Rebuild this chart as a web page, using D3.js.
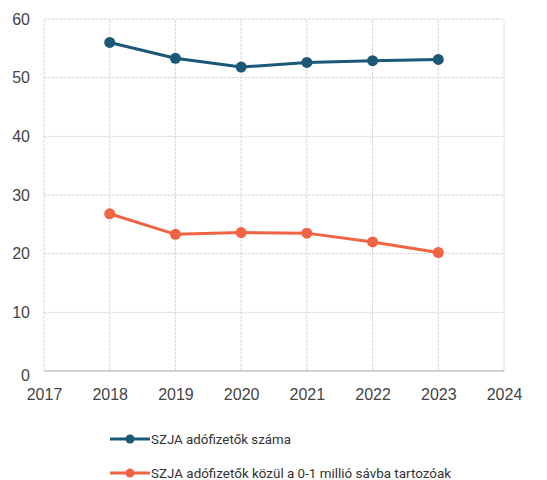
<!DOCTYPE html>
<html>
<head>
<meta charset="utf-8">
<script src="https://cdn.jsdelivr.net/npm/d3@7"></script>
<style>
  body { margin: 0; background: #fff; }
  svg { display: block; font-family: Roboto, "Liberation Sans", sans-serif; }
</style>
</head>
<body>
<div id="chart"></div>
<script>
const years = [2018, 2019, 2020, 2021, 2022, 2023];
const taxpayers = [56.0, 53.3, 51.8, 52.6, 52.9, 53.1];
const lowBand = [26.8, 23.3, 23.6, 23.5, 22.0, 20.2];
const yTicks = [0, 10, 20, 30, 40, 50, 60];
const xTicks = [2017, 2018, 2019, 2020, 2021, 2022, 2023, 2024];
const seriesNames = ['SZJA adófizetők száma', 'SZJA adófizetők közül a 0-1 millió sávba tartozóak'];
const colors = ['#1b5878', '#ef6443'];

const width = 547, height = 480;
const margin = { top: 19, right: 43, bottom: 109, left: 44 };

const svg = d3.select('#chart').append('svg')
    .attr('width', width).attr('height', height);

const x = d3.scaleLinear().domain([2017, 2024]).range([margin.left, width - margin.right]);
const y = d3.scaleLinear().domain([0, 60]).range([height - margin.bottom, margin.top]);

// gridlines
svg.append('g')
    .selectAll('line.h')
    .data(yTicks.filter(d => d > 0))
    .join('line')
    .attr('x1', x(2017)).attr('x2', x(2024))
    .attr('y1', d => y(d)).attr('y2', d => y(d))
    .attr('stroke', '#d8d8dc').attr('stroke-width', 1).attr('stroke-dasharray', '3,1');

svg.append('g')
    .selectAll('line.v')
    .data(xTicks)
    .join('line')
    .attr('x1', d => x(d)).attr('x2', d => x(d))
    .attr('y1', y(0)).attr('y2', y(60))
    .attr('stroke', '#d8d8dc').attr('stroke-width', 1).attr('stroke-dasharray', '3,1');

// baseline
svg.append('line')
    .attr('x1', x(2017)).attr('x2', x(2024))
    .attr('y1', y(0)).attr('y2', y(0))
    .attr('stroke', '#a8a8a8').attr('stroke-width', 1.2);

// axes
const yAxis = svg.append('g')
    .attr('transform', `translate(${margin.left},0)`)
    .call(d3.axisLeft(y).tickValues(yTicks).tickSize(0).tickPadding(14));
yAxis.select('.domain').remove();
yAxis.selectAll('text').attr('font-size', 16).attr('fill', '#444')
    .attr('dy', d => d === 0 ? '0.6em' : '0.32em');

const xAxis = svg.append('g')
    .attr('transform', `translate(0,${y(0)})`)
    .call(d3.axisBottom(x).tickValues(xTicks).tickFormat(d3.format('d')).tickSize(0).tickPadding(18));
xAxis.select('.domain').remove();
xAxis.selectAll('text').attr('font-size', 16).attr('fill', '#444');

// series
const line = d3.line().x(d => x(d[0])).y(d => y(d[1]));
[taxpayers, lowBand].forEach((vals, i) => {
    const pts = years.map((yr, j) => [yr, vals[j]]);
    svg.append('path')
        .datum(pts)
        .attr('d', line)
        .attr('fill', 'none')
        .attr('stroke', colors[i])
        .attr('stroke-width', 3);
    svg.append('g')
        .selectAll('circle')
        .data(pts)
        .join('circle')
        .attr('cx', d => x(d[0]))
        .attr('cy', d => y(d[1]))
        .attr('r', 5.5)
        .attr('fill', colors[i]);
});

// legend
const legend = svg.append('g').attr('transform', 'translate(110,439)');
seriesNames.forEach((name, i) => {
    const g = legend.append('g').attr('transform', `translate(0,${i * 34})`);
    g.append('line').attr('x1', 0).attr('x2', 40).attr('y1', 0).attr('y2', 0)
        .attr('stroke', colors[i]).attr('stroke-width', 3);
    g.append('circle').attr('cx', 20).attr('cy', 0).attr('r', 4.5).attr('fill', colors[i]);
    g.append('text').attr('x', 41).attr('y', 0).attr('dy', '0.36em')
        .attr('font-size', 13.5).attr('fill', '#333')
        .attr('textLength', i === 0 ? 140 : 300)
        .attr('lengthAdjust', 'spacingAndGlyphs')
        .text(name);
});
</script>
</body>
</html>
